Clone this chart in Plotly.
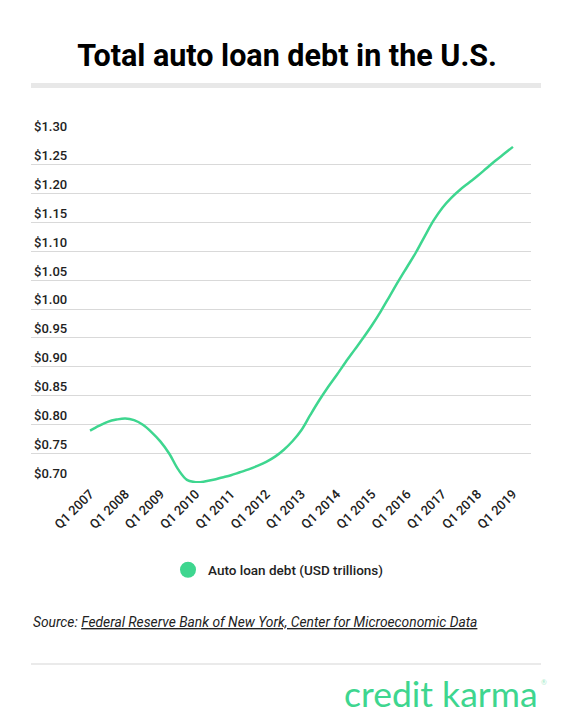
import plotly.graph_objects as go

# quarterly categories, Q1 2007 .. Q1 2019
years = list(range(2007, 2020))
quarters = [f"Q{q} {y}" for y in years for q in (1, 2, 3, 4)][:49]
tick_labels = [f"Q1 {y}" for y in years]

# auto loan debt, USD trillions
debt = [
    0.790, 0.798, 0.805, 0.809,   # 2007
    0.811, 0.808, 0.800, 0.787,   # 2008
    0.771, 0.750, 0.723, 0.705,   # 2009
    0.701, 0.702, 0.705, 0.709,   # 2010
    0.713, 0.718, 0.723, 0.729,   # 2011
    0.736, 0.745, 0.757, 0.772,   # 2012
    0.791, 0.817, 0.842, 0.865,   # 2013
    0.886, 0.908, 0.929, 0.950,   # 2014
    0.972, 0.996, 1.022, 1.048,   # 2015
    1.073, 1.098, 1.126, 1.153,   # 2016
    1.175, 1.192, 1.206, 1.218,   # 2017
    1.230, 1.243, 1.256, 1.268,   # 2018
    1.280,                        # Q1 2019
]

y_ticks = [0.70, 0.75, 0.80, 0.85, 0.90, 0.95, 1.00, 1.05, 1.10, 1.15, 1.20, 1.25, 1.30]

green = "#3ed68f"
dark = "#222222"

fig = go.Figure()
fig.add_trace(go.Scatter(
    x=quarters, y=debt, mode="lines", showlegend=False,
    line=dict(color=green, width=2.5, shape="spline", smoothing=1.0),
))
# legend entry shown as a dot
fig.add_trace(go.Scatter(
    x=[None], y=[None], mode="markers", name="Auto loan debt (USD trillions)",
    marker=dict(color=green, size=16),
))

# page body has an 8px margin, so the figure is 8px smaller than the window
fig.update_layout(
    width=564, height=717,
    margin=dict(l=23, r=41, t=127, b=242),
    plot_bgcolor="white", paper_bgcolor="white",
    font=dict(family="Roboto", color=dark),
    title=dict(text="<b>Total auto loan debt in the U.S.</b>", x=279 / 564, xanchor="center",
               y=1 - 47 / 717, yanchor="middle",
               font=dict(family="Roboto", size=30.5, color="black")),
    legend=dict(orientation="h", x=0.494, xanchor="center", y=-0.25, yanchor="middle",
                font=dict(family="Roboto", size=13.5, color=dark, weight=500)),
    showlegend=True,
)

fig.update_xaxes(
    type="category", range=[-6.7, 50.05],
    tickvals=quarters[::4], ticktext=tick_labels, tickangle=-45,
    tickfont=dict(family="Roboto", size=13, color=dark, weight=500),
    showgrid=False, zeroline=False, showline=False, ticks="",
)
fig.update_yaxes(
    range=[0.6995, 1.3005], tickvals=y_ticks,
    ticktext=[f"${v:.2f}" for v in y_ticks],
    ticklabelposition="inside top", ticklabeloverflow="allow",
    tickfont=dict(family="Roboto", size=13, color=dark, weight=500),
    showgrid=True, gridcolor="#d9d9d9", gridwidth=1,
    zeroline=False, showline=False, ticks="",
)

# rules above the plot and above the logo
fig.add_shape(type="line", xref="paper", yref="paper", x0=0, x1=1.02,
              y0=(483 - 85.5) / 348, y1=(483 - 85.5) / 348,
              line=dict(color="#e8e8e8", width=5))
fig.add_shape(type="line", xref="paper", yref="paper", x0=0, x1=1.02,
              y0=(483 - 664) / 348, y1=(483 - 664) / 348,
              line=dict(color="#e3e3e3", width=1.5))

fig.add_annotation(
    xref="paper", yref="paper", x=0, y=(483 - 622) / 348,
    xanchor="left", yanchor="middle", showarrow=False,
    text="<i>Source: <span style='text-decoration:underline'>Federal Reserve Bank of New York, "
         "Center for Microeconomic Data</span></i>",
    font=dict(family="Roboto", size=13.8, color=dark),
)
fig.add_annotation(
    xref="paper", yref="paper", x=(539 - 31) / 500, y=(483 - 693) / 348,
    xanchor="right", yanchor="middle", showarrow=False, borderpad=0,
    text="credit karma", font=dict(family="Lato", size=35.5, color=green, weight=400),
)
fig.add_annotation(
    xref="paper", yref="paper", x=(540 - 31) / 500, y=(483 - 682) / 348,
    xanchor="left", yanchor="middle", showarrow=False, borderpad=0,
    text="®", font=dict(family="Lato", size=7, color="#a6ebc9"),
)

fig.write_html("out.html")
